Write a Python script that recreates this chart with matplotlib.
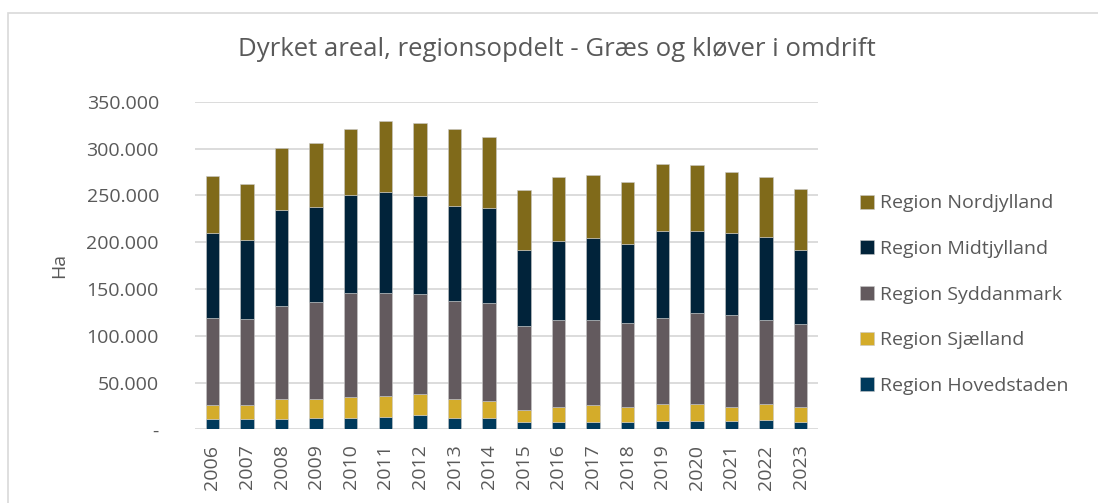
import matplotlib.pyplot as plt
import numpy as np
from matplotlib.patches import Rectangle

plt.rcParams['font.family'] = ['Open Sans', 'DejaVu Sans']

years = [str(y) for y in range(2006, 2024)]

# hektar pr. region
hovedstaden = [10700, 10700, 11400, 11800, 12500, 12900, 15700, 11800, 12100,
               8200, 7500, 8200, 7500, 9300, 9300, 9300, 9600, 8200]
sjaelland = [15000, 15000, 21100, 21100, 22100, 22900, 22500, 20700, 18200,
             12500, 16800, 17500, 16400, 18200, 17500, 14300, 17100, 15400]
syddanmark = [93600, 92100, 99600, 102900, 111400, 109300, 106800, 105000, 104300,
              90000, 92900, 91400, 90000, 91800, 97500, 98200, 90400, 89300]
midtjylland = [90400, 84600, 101800, 101800, 104300, 108600, 104300, 101100, 101800,
               80700, 83900, 87100, 83600, 92500, 87500, 88200, 88200, 78600]
nordjylland = [61400, 59600, 66800, 68600, 70700, 75700, 77500, 81800, 76100,
               64300, 68900, 67900, 66400, 71400, 70700, 65400, 64300, 65700]

regions = ['Region Hovedstaden', 'Region Sjælland', 'Region Syddanmark',
           'Region Midtjylland', 'Region Nordjylland']
series = [hovedstaden, sjaelland, syddanmark, midtjylland, nordjylland]
colors = ['#003A5C', '#D4AC2A', '#635A5E', '#01233A', '#806A1A']

txt = '#595959'

fig = plt.figure(figsize=(10.98, 5.03), dpi=100)
ax = fig.add_axes([195 / 1098, 1 - 429.3 / 503, 623 / 1098, 327.6 / 503])

# ramme rundt om diagrammet
fig.patches.append(Rectangle((8 / 1098, -0.1), 1.2, 1 - 13.5 / 503 + 0.1,
                             transform=fig.transFigure, fill=False,
                             edgecolor='#D9D9D9', linewidth=1.2))

x = np.arange(len(years))
bottom = np.zeros(len(years))
handles = []
for vals, name, col in zip(series, regions, colors):
    vals = np.array(vals)
    b = ax.bar(x, vals, 0.39, bottom=bottom, color=col, label=name,
               edgecolor='#C8C8C8', linewidth=0.4, zorder=3)
    handles.append(b)
    bottom += vals

ax.set_xlim(-0.5, len(years) - 0.5)
ax.set_ylim(0, 350000)
yticks = np.arange(0, 350001, 50000)
ax.set_yticks(yticks)
ax.set_yticklabels(['-' if v == 0 else f'{v:,}'.replace(',', '.') for v in yticks])
ax.set_xticks(x)
ax.set_xticklabels(years, rotation=90)
ax.grid(axis='y', color='#D9D9D9', linewidth=1.3, zorder=0)
for s in ax.spines.values():
    s.set_visible(False)
ax.tick_params(axis='both', length=0, colors=txt, labelsize=14)
ax.tick_params(axis='y', pad=26)
ax.tick_params(axis='x', pad=11)

fig.text(59 / 1098, 1 - 265 / 503, 'Ha', rotation=90, ha='center', va='center',
         fontsize=14, color=txt)
fig.text(557 / 1098, 1 - 50 / 503, 'Dyrket areal, regionsopdelt - Græs og kløver i omdrift',
         ha='center', va='center', fontsize=18.5, color=txt)

leg = fig.legend(handles[::-1], regions[::-1], loc='upper left',
                 bbox_to_anchor=(842 / 1098, 1 - 177 / 503), frameon=False,
                 fontsize=14, handlelength=0.72, handleheight=0.72,
                 handletextpad=0.35, labelspacing=1.42)
for t in leg.get_texts():
    t.set_color(txt)

fig.savefig('out.png', dpi=100, facecolor='white')
